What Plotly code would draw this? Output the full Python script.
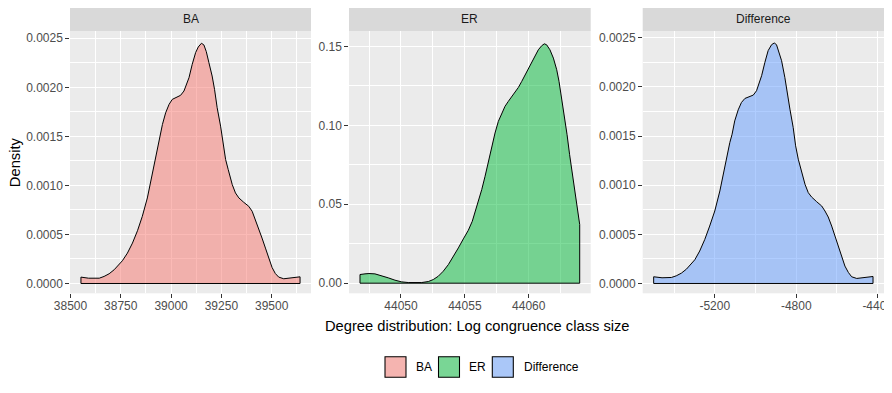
import plotly.graph_objects as go

# ---------------- data ----------------
panels = ["BA", "ER", "Difference"]

ba_x = [38552, 38590, 38643, 38667, 38692, 38717, 38742, 38758, 38783, 38808,
        38833, 38857, 38882, 38899, 38915, 38932, 38943, 38957, 38973, 38990,
        39006, 39031, 39047, 39064, 39075, 39089, 39105, 39122, 39135, 39151,
        39163, 39175, 39188, 39204, 39216, 39229, 39246, 39257, 39271, 39284,
        39304, 39320, 39337, 39361, 39386, 39403, 39419, 39436, 39452, 39469,
        39485, 39502, 39518, 39535, 39560, 39584, 39618, 39641]
ba_y = [0.000065, 0.000054, 0.000054, 0.000072, 0.000099, 0.000140, 0.000191, 0.000232, 0.000310, 0.000412,
        0.000538, 0.000685, 0.000872, 0.001042, 0.001213, 0.001383, 0.001485, 0.001621, 0.001740, 0.001826,
        0.001877, 0.001900, 0.001918, 0.001962, 0.002023, 0.002098, 0.002234, 0.002354, 0.002411, 0.002449,
        0.002432, 0.002364, 0.002251, 0.002115, 0.001979, 0.001792, 0.001604, 0.001451, 0.001264, 0.001161,
        0.001008, 0.000923, 0.000872, 0.000828, 0.000787, 0.000736, 0.000651, 0.000565, 0.000463, 0.000361,
        0.000259, 0.000163, 0.000102, 0.000065, 0.000048, 0.000054, 0.000068, 0.000068]

er_x = [44046.79, 44047.18, 44047.49, 44047.96, 44048.49, 44049.01, 44049.53, 44050.05, 44050.57, 44051.10,
        44051.62, 44052.14, 44052.53, 44052.92, 44053.31, 44053.71, 44054.10, 44054.49, 44054.88, 44055.27,
        44055.58, 44055.79, 44056.05, 44056.32, 44056.58, 44056.84, 44057.10, 44057.36, 44057.62, 44057.88,
        44058.14, 44058.40, 44058.79, 44059.19, 44059.45, 44059.71, 44059.97, 44060.23, 44060.49, 44060.75,
        44061.01, 44061.22, 44061.40, 44061.66, 44061.93, 44062.19, 44062.37, 44062.58, 44062.79, 44063.00,
        44063.20, 44063.41, 44063.62, 44063.83, 44063.99]
er_y = [0.00549, 0.00591, 0.00612, 0.00591, 0.00485, 0.00338, 0.00190, 0.00084, 0.00042, 0.00021,
        0.00042, 0.00105, 0.00232, 0.00443, 0.00760, 0.01181, 0.01688, 0.02236, 0.02806, 0.03354,
        0.03924, 0.04451, 0.05190, 0.05928, 0.06772, 0.07722, 0.08671, 0.09515, 0.10253, 0.10781,
        0.11203, 0.11519, 0.11941, 0.12405, 0.12785, 0.13207, 0.13586, 0.14050, 0.14430, 0.14789,
        0.15042, 0.15169, 0.15105, 0.14789, 0.14262, 0.13523, 0.12785, 0.11730, 0.10675, 0.09409,
        0.08143, 0.06878, 0.05612, 0.04346, 0.03713]

diff_x = [-5500, -5459, -5413, -5389, -5364, -5339, -5315, -5298, -5274, -5249,
          -5225, -5200, -5175, -5159, -5143, -5126, -5115, -5102, -5085, -5069,
          -5052, -5028, -5011, -4995, -4984, -4970, -4954, -4938, -4921, -4908,
          -4897, -4885, -4872, -4856, -4844, -4831, -4815, -4803, -4790, -4777,
          -4757, -4741, -4725, -4700, -4675, -4659, -4643, -4626, -4610, -4593,
          -4577, -4561, -4544, -4528, -4503, -4479, -4446, -4423]
diff_y = [0.000068, 0.000058, 0.000061, 0.000078, 0.000105, 0.000146, 0.000200, 0.000241, 0.000330, 0.000448,
          0.000584, 0.000737, 0.000941, 0.001111, 0.001264, 0.001434, 0.001518, 0.001654, 0.001766, 0.001841,
          0.001882, 0.001899, 0.001916, 0.001960, 0.002028, 0.002113, 0.002249, 0.002368, 0.002429, 0.002446,
          0.002429, 0.002361, 0.002266, 0.002096, 0.001960, 0.001773, 0.001586, 0.001400, 0.001264, 0.001162,
          0.001009, 0.000924, 0.000880, 0.000832, 0.000788, 0.000737, 0.000676, 0.000584, 0.000482, 0.000380,
          0.000279, 0.000177, 0.000112, 0.000068, 0.000051, 0.000058, 0.000071, 0.000071]

ba_xticks = [38500, 38750, 39000, 39250, 39500]
er_xticks = [44050, 44055, 44060]
diff_xticks = [-5200, -4800, -4400]
diff_xlabels = ["-5200", "-4800", "-4400"]
small_yticks = [0, 0.0005, 0.0010, 0.0015, 0.0020, 0.0025]
small_ylabels = ["0.0000", "0.0005", "0.0010", "0.0015", "0.0020", "0.0025"]
er_yticks = [0, 0.05, 0.10, 0.15]
er_ylabels = ["0.00", "0.05", "0.10", "0.15"]

# ---------------- styling ----------------
# the page body has an 8px margin, so the figure is 8px smaller and shifted
OFF = 8
W, H = 892 - OFF, 393 - OFF
FONT = "Liberation Sans, Arial, sans-serif"
palette = [(248, 118, 109), (0, 186, 56), (97, 156, 255)]
fills = ["rgba(%d,%d,%d,0.5)" % c for c in palette]
keyfills = ["rgb(%d,%d,%d)" % tuple(round((v + 242) / 2) for v in c) for c in palette]

px = lambda v: (v - OFF) / W
py = lambda v: 1 - (v - OFF) / H

xdomains = [(70, 311), (349, 590.7), (642.7, 884)]
ytop, ybot = 31, 293.3

series = [(ba_x, ba_y), (er_x, er_y), (diff_x, diff_y)]
fig = go.Figure()
for i, (xs, ys) in enumerate(series):
    sfx = "" if i == 0 else str(i + 1)
    fig.add_trace(go.Scatter(
        x=[xs[0]] + xs + [xs[-1], xs[0]],
        y=[0] + ys + [0, 0],
        mode="lines", fill="toself", fillcolor=fills[i],
        line=dict(color="black", width=1),
        xaxis="x" + sfx, yaxis="y" + sfx, showlegend=False, hoverinfo="skip"))

def xr(xs):
    span = max(xs) - min(xs)
    return [min(xs) - 0.05 * span, max(xs) + 0.05 * span]

axis_common = dict(
    showgrid=True, gridcolor="white", gridwidth=1.07, zeroline=False, showline=False,
    ticks="outside", ticklen=3.7, tickwidth=1.07, tickcolor="#333333", automargin=False,
    ticklabeloverflow="allow",
    tickfont=dict(family=FONT, size=12, color="#4D4D4D"),
)

xticks = [(ba_xticks, [str(v) for v in ba_xticks], 125),
          (er_xticks, [str(v) for v in er_xticks], 2.5),
          (diff_xticks, diff_xlabels, 200)]
yticks = [(small_yticks, small_ylabels, 0.00025, [-0.0001, 0.002574]),
          (er_yticks, er_ylabels, 0.025, [-0.0064, 0.1598]),
          (small_yticks, small_ylabels, 0.00025, [-0.0001, 0.002568])]

layout = dict(
    template="none",
    width=W, height=H, margin=dict(l=0, r=0, t=0, b=0, pad=0, autoexpand=False),
    paper_bgcolor="white", plot_bgcolor="#EBEBEB", showlegend=False,
    shapes=[], annotations=[],
)
for i in range(3):
    sfx = "" if i == 0 else str(i + 1)
    tv, tt, mstep = xticks[i]
    layout["xaxis" + sfx] = dict(
        axis_common, domain=[px(xdomains[i][0]), px(xdomains[i][1])],
        anchor="y" + sfx, range=xr(series[i][0]),
        tickmode="array", tickvals=tv, ticktext=tt, ticklabelstandoff=-2,
        minor=dict(showgrid=True, gridcolor="white", gridwidth=0.53, dtick=mstep, tick0=tv[0], ticks=""),
    )
    ytv, ytt, ymstep, yrng = yticks[i]
    layout["yaxis" + sfx] = dict(
        axis_common, domain=[py(ybot), py(ytop)], anchor="x" + sfx, range=yrng,
        tickmode="array", tickvals=ytv, ticktext=ytt,
        minor=dict(showgrid=True, gridcolor="white", gridwidth=0.53, dtick=ymstep, tick0=0, ticks=""),
    )
    # facet strip
    layout["shapes"].append(dict(
        type="rect", xref="paper", yref="paper",
        x0=px(xdomains[i][0]), x1=px(xdomains[i][1]), y0=py(ytop), y1=py(7),
        fillcolor="#D9D9D9", line=dict(width=0), layer="below"))
    layout["annotations"].append(dict(
        text=panels[i], xref="paper", yref="paper",
        x=px((xdomains[i][0] + xdomains[i][1]) / 2), y=py(19.5),
        showarrow=False, xanchor="center", yanchor="middle",
        font=dict(family=FONT, size=12, color="#1A1A1A")))

# axis titles
layout["annotations"].append(dict(
    text="Density", xref="paper", yref="paper", x=px(15), y=py((ytop + ybot) / 2),
    textangle=-90, showarrow=False, xanchor="center", yanchor="middle",
    font=dict(family=FONT, size=14.7, color="black")))
layout["annotations"].append(dict(
    text="Degree distribution: Log congruence class size", xref="paper", yref="paper",
    x=px(477), y=py(326), showarrow=False, xanchor="center", yanchor="middle",
    font=dict(family=FONT, size=14.7, color="black")))

# legend (keys drawn as shapes, labels as text)
key_left = [385, 438.5, 492.3]
text_left = [414, 466.7, 522.3]
for i in range(3):
    layout["shapes"].append(dict(
        type="rect", xref="paper", yref="paper",
        x0=px(key_left[i]), x1=px(key_left[i] + 21), y0=py(377.3), y1=py(356.7),
        fillcolor=keyfills[i], line=dict(color="black", width=1.07)))
    layout["annotations"].append(dict(
        text=panels[i], xref="paper", yref="paper", x=px(text_left[i]), y=py(367),
        showarrow=False, xanchor="left", yanchor="middle",
        font=dict(family=FONT, size=12, color="black")))

fig.update_layout(**layout)
fig.write_html("out.html")
